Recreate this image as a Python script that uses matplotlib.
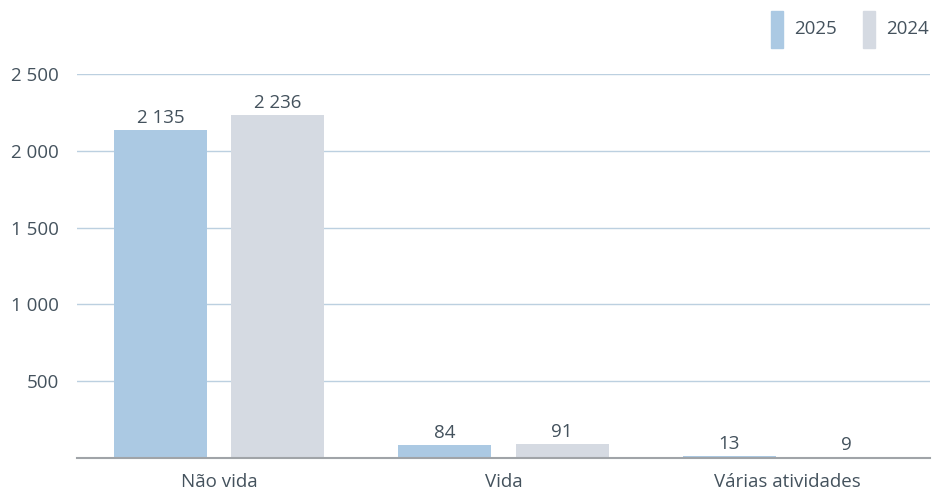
import matplotlib
matplotlib.use("Agg")
import matplotlib.pyplot as plt
import numpy as np
from matplotlib.patches import Rectangle

categories = ["Não vida", "Vida", "Várias atividades"]
series_names = ["2025", "2024"]
values_2025 = [2135, 84, 13]
values_2024 = [2236, 91, 9]
y_ticks = [500, 1000, 1500, 2000, 2500]

def fmt(v):
    return f"{v:,}".replace(",", " ")

plt.rcParams['font.family'] = ['Open Sans', 'DejaVu Sans']
text_color = "#44525d"
c2025 = "#abc9e3"
c2024 = "#d5dae2"
fs = 13.5

fig = plt.figure(figsize=(9.33, 4.9), dpi=100)
ax = fig.add_axes([77/933, 1 - 458/490, (930-77)/933, (458-74)/490])

x = np.arange(len(categories))
w = 0.327
off = 0.206
b1 = ax.bar(x - off, values_2025, w, color=c2025, zorder=3)
b2 = ax.bar(x + off, values_2024, w, color=c2024, zorder=3)

for bars, vals in ((b1, values_2025), (b2, values_2024)):
    for r, v in zip(bars, vals):
        ax.annotate(fmt(v), (r.get_x() + r.get_width()/2, v), xytext=(0, 2),
                    textcoords="offset points", ha="center", va="bottom",
                    fontsize=fs, color=text_color)

ax.set_xlim(-0.5, 2.5)
ax.set_ylim(0, 2500)
ax.set_yticks(y_ticks)
ax.set_yticklabels([fmt(t) for t in y_ticks])
ax.set_xticks(x)
ax.set_xticklabels(categories)
ax.tick_params(axis="both", length=0, labelsize=fs, labelcolor=text_color)
ax.tick_params(axis="y", pad=13)
ax.tick_params(axis="x", pad=11)
ax.grid(axis="y", color="#bcd0e0", linewidth=1, zorder=0)
for s in ("top", "right", "left"):
    ax.spines[s].set_visible(False)
ax.spines["bottom"].set_color("#a0a4a8")
ax.spines["bottom"].set_linewidth(1.5)
ax.spines["bottom"].set_zorder(4)

# legend drawn as tall swatches in figure pixel coordinates
W, H = 933, 490
for px, name, col in ((771, series_names[0], c2025), (863, series_names[1], c2024)):
    fig.patches.append(Rectangle((px/W, 1 - 48/H), 12/W, 37/H, transform=fig.transFigure,
                                 color=col, figure=fig))
    fig.text((px + 23)/W, 1 - 29/H, name, fontsize=fs, color=text_color, va="center", ha="left")

fig.savefig("out.png", dpi=100)
